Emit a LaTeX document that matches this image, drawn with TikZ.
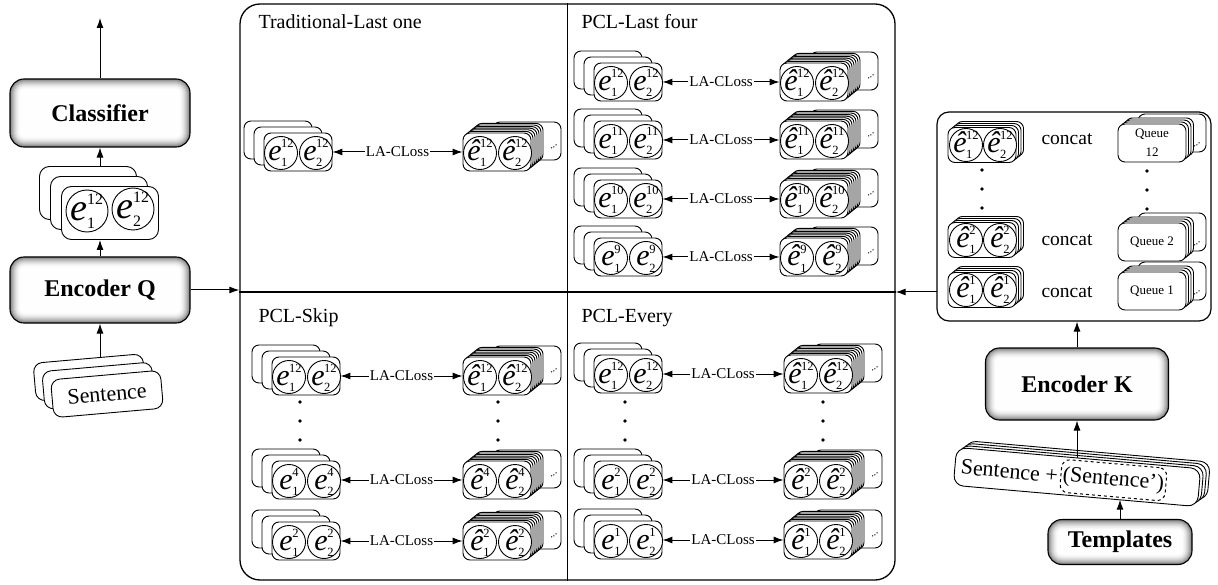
\documentclass[tikz,border=0pt]{standalone}
\usepackage{fontspec}
\setmainfont{Liberation Serif}
\usepackage{graphicx}
\usetikzlibrary{calc,positioning,arrows.meta}

% embedding symbol: letter, lower index, upper index
\newcommand{\ev}[3]{%
  {\fontsize{30}{30}\selectfont\itshape #1}\kern-0.5pt%
  {\fontsize{12.5}{12.5}\selectfont\rlap{\raisebox{-6pt}{#2}}\raisebox{13pt}{#3}}}

\tikzset{
  card/.style={draw, fill=white, line width=0.9pt, rounded corners=7pt, minimum width=68pt, minimum height=38pt, inner sep=0pt},
  bigcard/.style={card, rounded corners=10pt, minimum width=97pt, minimum height=53pt},
  sentcard/.style={card, rounded corners=9pt, minimum width=110pt, minimum height=38pt},
  bub/.style={draw, fill=white, circle, line width=0.9pt, minimum size=33pt, inner sep=0pt},
  bigbub/.style={bub, minimum size=42pt},
  boxtext/.style={font=\fontsize{24}{24}\selectfont\bfseries},
  paneltitle/.style={font=\fontsize{20}{20}\selectfont, anchor=base west, inner sep=0pt},
  losslabel/.style={font=\fontsize{15}{15}\selectfont, fill=white, inner sep=1pt},
  sentfont/.style={font=\fontsize{22}{22}\selectfont},
  concatfont/.style={font=\fontsize{19.5}{19.5}\selectfont},
  qfont/.style={font=\fontsize{13}{19}\selectfont},
  tdots/.style={font=\fontsize{11}{11}\selectfont, rotate=35, inner sep=0pt}
}

% shaded box with inner glow
\newcommand{\glowbox}[6]{%
  \foreach \i in {0,...,10}{%
    \pgfmathsetmacro{\tone}{50*(1-\i/11)^2}%
    \pgfmathsetmacro{\rc}{max(14-\i,3)}%
    \fill[black!\tone, rounded corners=\rc pt] (#2-#4/2+\i,#3-#5/2+\i) rectangle (#2+#4/2-\i,#3+#5/2-\i);
  }%
  \node[draw, line width=1.1pt, rounded corners=14pt, minimum width=#4pt, minimum height=#5pt, boxtext] (#1) at (#2,#3) {#6};
}

% one circle with its symbol
\newcommand{\ebub}[4]{%
  \node[bub] (#1) at (#2,#3) {};
  \node[anchor=base, inner sep=0pt] (#1t) at (#2,#3+8) {#4};
}

% query stack: name, x, y, layer
\newcommand{\qstack}[4]{%
  \foreach \k in {2,1}{\node[card] (#1s\k) at (#2-10*\k,#3-6*\k) {};}
  \node[card] (#1) at (#2,#3) {};
  \ebub{#1a}{#2-17}{#3+1}{\ev{e}{1}{#4}}
  \ebub{#1b}{#2+18}{#3+1}{\ev{e}{2}{#4}}
}

% key stack with queue behind: name, x, y, layer
\newcommand{\kstack}[4]{%
  \node[card] (#1back) at (#2+30,#3-11) {};
  \node[tdots] (#1dots) at (#2+57,#3-5) {...};
  \foreach \k in {6,...,1}{\node[card] (#1s\k) at (#2+2*\k,#3-1.6*\k) {};}
  \node[card] (#1) at (#2,#3) {};
  \ebub{#1a}{#2-17}{#3+1}{\ev{\^e}{1}{#4}}
  \ebub{#1b}{#2+18}{#3+1}{\ev{\^e}{2}{#4}}
}

% key stack in the queue box: name, x, y, layer
\newcommand{\hstack}[4]{%
  \foreach \k in {3,2,1}{\node[card, minimum height=35pt] (#1s\k) at (#2+2.5*\k,#3-2*\k) {};}
  \node[card, minimum height=35pt] (#1) at (#2,#3) {};
  \ebub{#1a}{#2-16}{#3}{\ev{\^e}{1}{#4}}
  \ebub{#1b}{#2+18}{#3}{\ev{\^e}{2}{#4}}
}

% queue stack: name, x, y, text
\newcommand{\queuestack}[4]{%
  \node[card] (#1back) at (#2+20,#3-10) {};
  \node[tdots] (#1dots) at (#2+45,#3+2) {...};
  \foreach \k in {3,2,1}{\node[card] (#1s\k) at (#2+2.5*\k,#3-2*\k) {};}
  \node[card, qfont, align=center] (#1) at (#2,#3) {#4};
}

\newcommand{\lossarrow}[2]{%
  \draw[<->] (#1.east) -- node[losslabel] (#1loss) {LA-CLoss} (#2.west);
}

\newcommand{\threedots}[2]{%
  \foreach \d in {0,1,2}{\fill (#1,#2+19*\d) circle (1.8pt);}
}

\begin{document}
\begin{tikzpicture}[x=1pt, y=-1pt, line width=1pt, >={Latex[length=10pt,width=7pt]}]
  \useasboundingbox (0,0) rectangle (1218,585);

  % left column
  \glowbox{cls}{100}{113}{180}{68}{Classifier}
  \coordinate (clsout) at (100,18);
  \draw[->] (cls.north) -- (clsout);

  \foreach \k in {2,1}{\node[bigcard] (qe\k) at (110-11*\k,213-10*\k) {};}
  \node[bigcard] (qe) at (110,213) {};
  \node[bigbub] (qea) at (87,211) {};
  \node[bigbub] (qeb) at (133,209) {};
  \node[anchor=base, inner sep=0pt] (qeat) at (87,221) {\scalebox{1.27}{\ev{e}{1}{12}}};
  \node[anchor=base, inner sep=0pt] (qebt) at (133,219) {\scalebox{1.27}{\ev{e}{2}{12}}};

  \glowbox{encq}{100}{290}{180}{66}{Encoder Q}
  \draw[->] (encq.north) -- (encq.north |- qe.south);
  \draw[->] (cls.south |- qe2.north) -- (cls.south);

  \begin{scope}[shift={(107,394)}, rotate=5, transform shape]
    \foreach \k in {2,1}{\node[sentcard] (sq\k) at (-8*\k,-9*\k) {};}
    \node[sentcard, sentfont] (sq) at (0,0) {Sentence};
  \end{scope}
  \draw[->] (encq.south |- sq2.north) -- (encq.south);

  % the four loss panels
  \node[draw, line width=1.3pt, rounded corners=20pt, minimum width=655pt, minimum height=576pt] (panel) at (567.5,292) {};
  \draw[line width=1.1pt] (panel.north) -- (panel.south);
  \draw[line width=1.1pt] (panel.west) -- (panel.east);
  \draw[->] (encq.east) -- (panel.west |- encq.east);

  \node[paneltitle] (t1) at (258,29) {Traditional-Last one};
  \node[paneltitle] (t2) at (581,29) {PCL-Last four};
  \node[paneltitle] (t3) at (258,323) {PCL-Skip};
  \node[paneltitle] (t4) at (581,323) {PCL-Every};

  % Traditional-Last one
  \qstack{tq}{298}{152}{12}
  \kstack{tk}{497}{152}{12}
  \lossarrow{tq}{tk}

  % PCL-Last four
  \qstack{fq1}{628}{82}{12}  \kstack{fk1}{814}{82}{12}  \lossarrow{fq1}{fk1}
  \qstack{fq2}{628}{140}{11} \kstack{fk2}{814}{140}{11} \lossarrow{fq2}{fk2}
  \qstack{fq3}{628}{199}{10} \kstack{fk3}{814}{199}{10} \lossarrow{fq3}{fk3}
  \qstack{fq4}{628}{257}{9}  \kstack{fk4}{814}{257}{9}  \lossarrow{fq4}{fk4}

  % PCL-Skip
  \qstack{sq1}{306}{376}{12} \kstack{sk1}{497}{376}{12} \lossarrow{sq1}{sk1}
  \qstack{sq2}{306}{480}{4}  \kstack{sk2}{497}{480}{4}  \lossarrow{sq2}{sk2}
  \qstack{sq3}{306}{541}{2}  \kstack{sk3}{497}{541}{2}  \lossarrow{sq3}{sk3}
  \threedots{300}{402}
  \threedots{498}{402}

  % PCL-Every
  \qstack{eq1}{628}{374}{12} \kstack{ek1}{818}{374}{12} \lossarrow{eq1}{ek1}
  \qstack{eq2}{628}{480}{2}  \kstack{ek2}{818}{480}{2}  \lossarrow{eq2}{ek2}
  \qstack{eq3}{628}{540}{1}  \kstack{ek3}{818}{540}{1}  \lossarrow{eq3}{ek3}
  \threedots{625}{402}
  \threedots{823}{402}

  % queue box
  \node[draw, line width=1.2pt, rounded corners=12pt, minimum width=274pt, minimum height=209pt] (kbox) at (1074,216.5) {};
  \coordinate (kin) at (937,292);
  \draw[->] (kin) -- (panel.east |- kin);

  \hstack{h12}{982}{145}{12}
  \hstack{h2}{982}{240}{2}
  \hstack{h1}{982}{290}{1}
  \node[concatfont] (cc12) at (1067,139) {concat};
  \node[concatfont] (cc2) at (1067,240) {concat};
  \node[concatfont] (cc1) at (1067,292) {concat};
  \queuestack{q12}{1152}{143}{Queue\\12}
  \queuestack{q2}{1152}{242}{Queue 2}
  \queuestack{q1}{1152}{291}{Queue 1}
  \threedots{982}{170}
  \threedots{1147}{171}

  % right column
  \glowbox{enck}{1077}{384}{183}{72}{Encoder K}
  \draw[->] (enck.north) -- (enck.north |- kbox.south);

  \begin{scope}[shift={(1077,477)}, rotate=-5, transform shape]
    \foreach \k in {3,2,1}{\node[card, rounded corners=10pt, minimum width=245pt] (sp\k) at (3*\k,-2.5*\k) {};}
    \node[card, rounded corners=10pt, minimum width=245pt] (sp) at (0,0) {};
    \node[sentfont, anchor=west, inner sep=2pt] (splus) at (-119,0) {Sentence +};
    \node[sentfont, draw, dashed, rounded corners=8pt, anchor=west, inner sep=2pt, minimum height=33pt] (saug) at (splus.east) {(Sentence’)};
    \coordinate (spin) at (43,19);
  \end{scope}
  \draw[->] (enck.south |- sp.north) -- (enck.south);

  \glowbox{tmpl}{1120}{542}{144}{45}{Templates}
  \draw[->] (tmpl.north) -- (tmpl.north |- spin);
\end{tikzpicture}
\end{document}
